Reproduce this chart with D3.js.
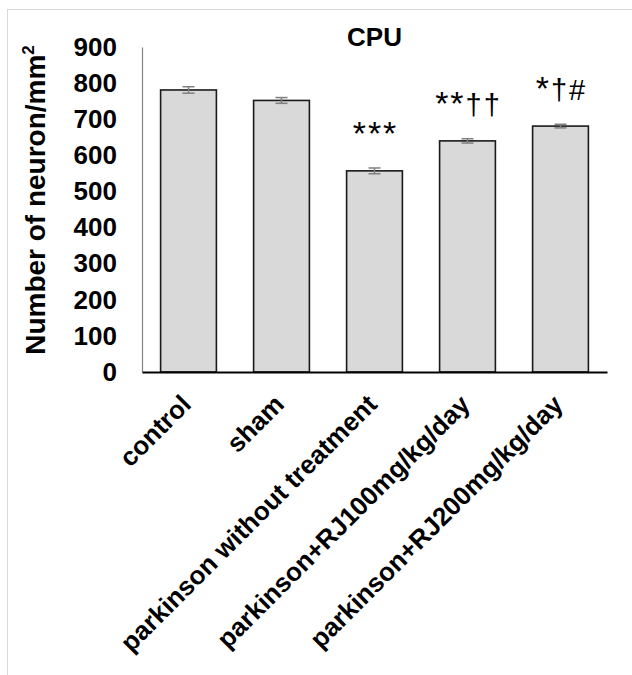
<!DOCTYPE html>
<html>
<head>
    <title>CPU neuron count</title>
    <style>
        body, html {
            margin: 0;
            padding: 0;
            background: #fff;
            overflow: hidden;
        }
        text {
            font-family: "Liberation Sans", Arial, sans-serif;
        }
    </style>
    <script src="https://d3js.org/d3.v7.min.js"></script>
</head>
<body>

<svg id="chart" width="632" height="675"></svg>

<script>
const groups = ['control', 'sham', 'parkinson without treatment',
    'parkinson+RJ100mg/kg/day', 'parkinson+RJ200mg/kg/day'];
const means = [781, 752, 557, 640, 681];
const errors = [9, 8, 8, 6, 5];
const marks = ['', '', '***', '**††', '*†#'];
const yTicks = [0, 100, 200, 300, 400, 500, 600, 700, 800, 900];

const svg = d3.select('#chart');
const margin = {top: 47, right: 25, bottom: 303, left: 142};
const width = 632 - margin.left - margin.right;
const height = 675 - margin.top - margin.bottom;

// light frame around the chart area
svg.append('rect')
    .attr('x', 7.5).attr('y', 9.5)
    .attr('width', 700).attr('height', 700)
    .attr('fill', 'none')
    .attr('stroke', '#d9d9d9');

const g = svg.append('g')
    .attr('transform', `translate(${margin.left},${margin.top})`);

const x = d3.scaleBand()
    .domain(groups)
    .range([0, width])
    .paddingInner(0.4)
    .paddingOuter(0.2);

const y = d3.scaleLinear()
    .domain([0, 900])
    .range([height, 0]);

// y axis
const yAxis = g.append('g')
    .call(d3.axisLeft(y).tickValues(yTicks).tickSize(0).tickPadding(25));
yAxis.select('.domain').attr('stroke', '#868686').attr('stroke-width', 1.2);
yAxis.selectAll('text')
    .attr('font-size', 26)
    .attr('font-weight', 'bold')
    .attr('fill', '#000')
    .style('font-family', '"Liberation Sans", Arial, sans-serif');

// bars
g.selectAll('.bar')
    .data(groups)
    .enter().append('rect')
    .attr('class', 'bar')
    .attr('x', d => x(d))
    .attr('y', (d, i) => y(means[i]))
    .attr('width', x.bandwidth())
    .attr('height', (d, i) => height - y(means[i]))
    .attr('fill', '#d9d9d9')
    .attr('stroke', '#1a1a1a')
    .attr('stroke-width', 1.6);

// error bars
const err = g.selectAll('.err')
    .data(groups)
    .enter().append('g')
    .attr('class', 'err')
    .attr('stroke', '#7f7f7f')
    .attr('stroke-width', 1.5);

err.append('line')
    .attr('x1', d => x(d) + x.bandwidth() / 2)
    .attr('x2', d => x(d) + x.bandwidth() / 2)
    .attr('y1', (d, i) => y(means[i] + errors[i]))
    .attr('y2', (d, i) => y(means[i] - errors[i]));

[1, -1].forEach(s => {
    err.append('line')
        .attr('x1', d => x(d) + x.bandwidth() / 2 - 6)
        .attr('x2', d => x(d) + x.bandwidth() / 2 + 6)
        .attr('y1', (d, i) => y(means[i] + s * errors[i]))
        .attr('y2', (d, i) => y(means[i] + s * errors[i]));
});

// x axis
const xAxis = g.append('g')
    .attr('transform', `translate(0,${height})`)
    .call(d3.axisBottom(x).tickSize(0).tickFormat(''));
xAxis.select('.domain').attr('stroke', '#000').attr('stroke-width', 2);

g.selectAll('.xlabel')
    .data(groups)
    .enter().append('text')
    .attr('class', 'xlabel')
    .attr('transform', d => `translate(${x(d) + x.bandwidth() / 2 + 4},${height + 34}) rotate(-45)`)
    .attr('text-anchor', 'end')
    .attr('font-size', 26)
    .attr('font-weight', 'bold')
    .text(d => d);

// significance marks
const mk = g.selectAll('.mark')
    .data(groups)
    .enter().append('text')
    .attr('class', 'mark')
    .attr('x', d => x(d) + x.bandwidth() / 2 + 1)
    .attr('y', (d, i) => y(means[i]) - 26)
    .attr('text-anchor', 'middle')
    .attr('letter-spacing', 2);

mk.each(function(d, i) {
    const t = d3.select(this);
    for (const ch of marks[i]) {
        t.append('tspan')
            .attr('font-size', ch === '*' ? 34 : 29)
            .text(ch);
    }
});

// title
g.append('text')
    .attr('x', width / 2)
    .attr('y', -1)
    .attr('text-anchor', 'middle')
    .attr('font-size', 26)
    .attr('font-weight', 'bold')
    .text('CPU');

// y axis title
const yt = svg.append('text')
    .attr('transform', 'translate(45,200) rotate(-90)')
    .attr('text-anchor', 'middle')
    .attr('font-size', 28)
    .attr('font-weight', 'bold');
yt.append('tspan').text('Number of neuron/mm');
yt.append('tspan').attr('font-size', 17).attr('dy', -11).text('2');
</script>

</body>
</html>
